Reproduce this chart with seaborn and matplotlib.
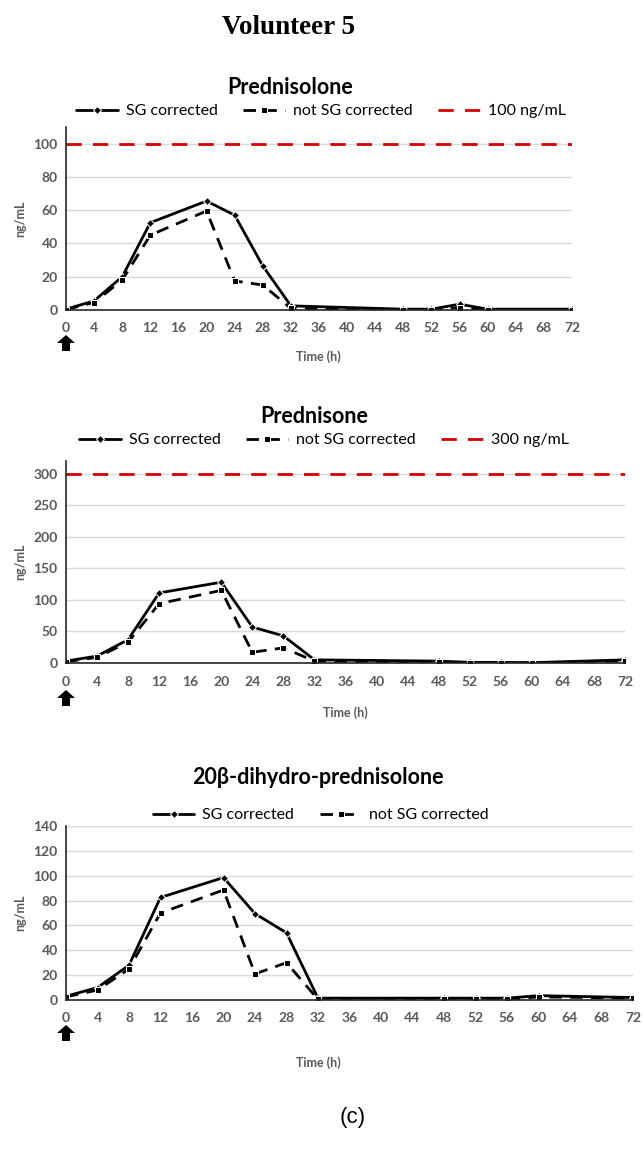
import matplotlib
matplotlib.use('Agg')
import matplotlib.pyplot as plt
from matplotlib.patches import Polygon
import seaborn as sns
import pandas as pd

# sampling times (h)
times = [0, 4, 8, 12, 20, 24, 28, 32, 48, 52, 56, 60, 72]

# Prednisolone
pnl_sg = [0.5, 5.5, 20, 52.5, 65.5, 57, 26.5, 2.5, 0.5, 0.5, 3.5, 0.5, 0.5]
pnl_raw = [0.3, 4.5, 18, 45, 59.5, 17.5, 15, 1, 0.3, 0.3, 1.5, 0.3, 0.3]

# Prednisone
pn_sg = [3, 11, 37, 111, 128, 57, 43, 5, 3, 1, 1, 0.5, 5]
pn_raw = [2, 9, 33, 94, 115, 17, 24, 3, 1, 0.5, 0.5, 0.3, 3]

# 20beta-dihydro-prednisolone
dh_sg = [3, 10, 28, 82.5, 98.5, 69.5, 54, 1.5, 1.5, 1.5, 1.5, 3.5, 2]
dh_raw = [2.5, 8, 25, 70, 88.5, 21, 30, 0.5, 0.5, 0.5, 0.5, 2.5, 1.5]

xticks = list(range(0, 73, 4))

sns.set_style('white')
plt.rcParams['font.family'] = ['Lato', 'DejaVu Sans']
plt.rcParams['text.color'] = 'black'

GRAY = '#595959'

fig = plt.figure(figsize=(6.43, 11.49), dpi=100)
W, H = 643, 1149


def fx(px):
    return px / W


def fy(py):
    return 1 - py / H


panels = [
    dict(name='Prednisolone', sg=pnl_sg, raw=pnl_raw, ymax=110, yticks=range(0, 101, 20),
         limit=100, limit_label='100 ng/mL', box=(66, 572, 310, 127),
         title=(290, 88), leg=(321, 111), xl=(318, 357), arrow_y=335),
    dict(name='Prednisone', sg=pn_sg, raw=pn_raw, ymax=320, yticks=range(0, 301, 50),
         limit=300, limit_label='300 ng/mL', box=(66, 625, 663, 461),
         title=(314, 417), leg=(324, 440), xl=(345, 713), arrow_y=690),
    dict(name='20β-dihydro-prednisolone', sg=dh_sg, raw=dh_raw, ymax=140, yticks=range(0, 141, 20),
         limit=None, limit_label=None, box=(66, 633, 1000, 826),
         title=(318, 778), leg=(321, 815), xl=(318, 1063), arrow_y=1025),
]

for p in panels:
    x0, x1, y0, y1 = p['box']
    ax = fig.add_axes([fx(x0), fy(y0), fx(x1 - x0), (y0 - y1) / H])
    df = pd.DataFrame({'t': times, 'sg': p['sg'], 'raw': p['raw']})
    sns.lineplot(data=df, x='t', y='sg', ax=ax, color='black', lw=2,
                 marker='D', markersize=4.5, label='SG corrected')
    sns.lineplot(data=df, x='t', y='raw', ax=ax, color='black', lw=2,
                 marker='s', markersize=5, label='not SG corrected')
    ax.lines[1].set_dashes((4.5, 3))
    if p['limit'] is not None:
        ax.axhline(p['limit'], color='#d40000', lw=2, dashes=(5.5, 4), label=p['limit_label'])
    ax.set_xlim(0, 72)
    ax.set_ylim(0, p['ymax'])
    ax.set_xticks(xticks)
    ax.set_yticks(list(p['yticks']))
    ax.grid(axis='y', color='#d9d9d9', lw=1)
    ax.set_axisbelow(True)
    for s in ['top', 'right']:
        ax.spines[s].set_visible(False)
    for s in ['left', 'bottom']:
        ax.spines[s].set_color('#262626')
        ax.spines[s].set_linewidth(1.2)
    ax.tick_params(axis='x', length=4, width=1, color='#262626', labelsize=10,
                   labelcolor=GRAY, pad=5)
    ax.tick_params(axis='y', length=0, labelsize=10, labelcolor=GRAY, pad=6)
    for lab in ax.get_xticklabels() + ax.get_yticklabels():
        lab.set_fontweight('bold')
    ax.set_xlabel('')
    ax.set_ylabel('')
    h, l = ax.get_legend_handles_labels()
    ax.legend(h, l, loc='center', bbox_to_anchor=(fx(p['leg'][0]), fy(p['leg'][1])),
              bbox_transform=fig.transFigure, ncol=len(h), frameon=False,
              fontsize=11.5, handlelength=2.6, columnspacing=1.6, handletextpad=0.5,
              labelcolor='black')
    fig.text(fx(p['title'][0]), fy(p['title'][1]), p['name'], ha='center', va='center',
             fontsize=15.5, fontweight='bold', color='black')
    fig.text(fx(p['xl'][0]), fy(p['xl'][1]), 'Time (h)', ha='center', va='center',
             fontsize=9, fontweight='bold', color=GRAY)
    fig.text(fx(20), fy((y0 + y1) / 2), 'ng/mL', ha='center', va='center', rotation=90,
             fontsize=9, fontweight='bold', color=GRAY)
    # dosing arrow under t = 0
    ty = p['arrow_y']
    pts = [(66, ty), (75, ty + 8), (70, ty + 8), (70, ty + 16), (62, ty + 16),
           (62, ty + 8), (57, ty + 8)]
    fig.patches.append(Polygon([(fx(a), fy(b)) for a, b in pts], closed=True,
                               transform=fig.transFigure, facecolor='black',
                               edgecolor='none'))

fig.text(fx(289), fy(27), 'Volunteer 5', ha='center', va='center', fontsize=19.5,
         fontweight='bold', family='Liberation Serif', color='black')
fig.text(fx(353), fy(1117), '(c)', ha='center', va='center', fontsize=16,
         family='Liberation Sans', color='black')

fig.savefig('out.png', dpi=100)
